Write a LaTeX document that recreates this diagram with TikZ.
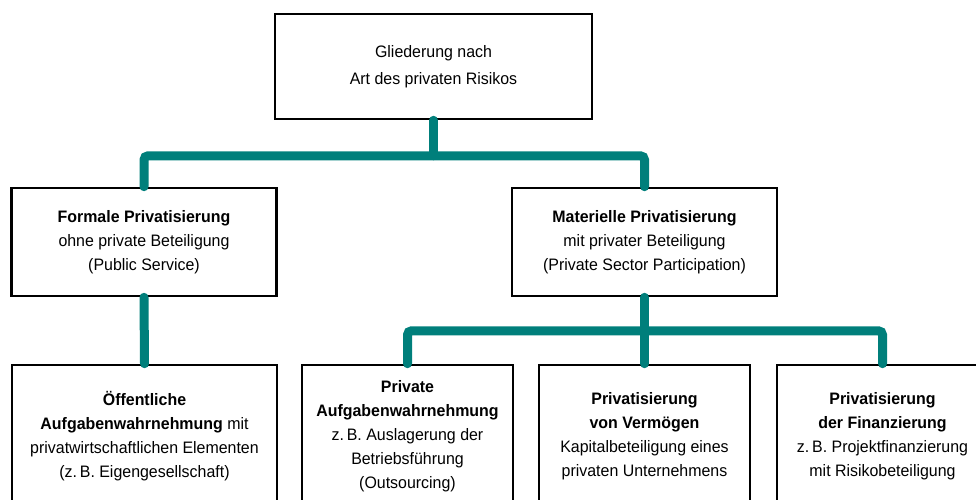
\documentclass[tikz,border=0pt]{standalone}
\usepackage{fontspec}
\setmainfont[FakeStretch=0.96]{Liberation Sans}
\usepackage{xcolor}
\usepackage{tikz}
\usetikzlibrary{calc,positioning}
\definecolor{linkteal}{HTML}{007F7B}

\begin{document}
\begin{tikzpicture}[x=1pt,y=-1pt,
    box/.style={draw=black,line width=2.6pt,fill=white,inner sep=0pt,align=center,
      font=\fontsize{16.6}{24}\selectfont},
    link/.style={draw=linkteal,line width=9pt,line cap=round,rounded corners=4pt}]
        \useasboundingbox (0,0) rectangle (976,499);
        \clip (0,0) rectangle (976,499);
        % level 0
        \node[box,minimum width=317pt,minimum height=105pt,font=\fontsize{16.6}{26.5}\selectfont] (root) at (433.5,66.5) {Gliederung nach\\Art des privaten Risikos};
        % level 1
        \node[box,minimum width=265pt,minimum height=108pt] (formal) at (144,242) {\textbf{Formale Privatisierung}\\ohne private Beteiligung\\(Public Service)};
        \node[box,minimum width=265pt,minimum height=108pt] (material) at (644.5,242) {\textbf{Materielle Privatisierung}\\mit privater Beteiligung\\(Private Sector Participation)};
        % level 2
        \node[box,minimum width=265pt,minimum height=142pt] (public) at (144.5,436) {\textbf{Öffentliche}\\\textbf{Aufgabenwahrnehmung} mit\\privatwirtschaftlichen Elementen\\(z.\,B. Eigengesellschaft)};
        \node[box,minimum width=211pt,minimum height=142pt] (outsourcing) at (407.5,436) {\textbf{Private}\\\textbf{Aufgabenwahrnehmung}\\z.\,B. Auslagerung der\\Betriebsführung\\(Outsourcing)};
        \node[box,minimum width=211pt,minimum height=142pt] (assets) at (644.5,436) {\textbf{Privatisierung}\\\textbf{von Vermögen}\\Kapitalbeteiligung eines\\privaten Unternehmens};
        \node[box,minimum width=211pt,minimum height=142pt] (finance) at (882.5,436) {\textbf{Privatisierung}\\\textbf{der Finanzierung}\\z.\,B. Projektfinanzierung\\mit Risikobeteiligung};
        % connectors
        \coordinate (split1) at ($(root.south)+(0,35.5)$);
        \coordinate (split2) at ($(material.south)+(0,33.5)$);
        \draw[link] (root.south) -- (split1);
        \draw[link] (formal.north) |- (split1) -| (material.north);
        \draw[link] (formal.south) -- (public.north);
        \draw[link] (material.south) -- (assets.north);
        \draw[link] (outsourcing.north) |- (split2) -| (finance.north);
      \end{tikzpicture}
\end{document}
